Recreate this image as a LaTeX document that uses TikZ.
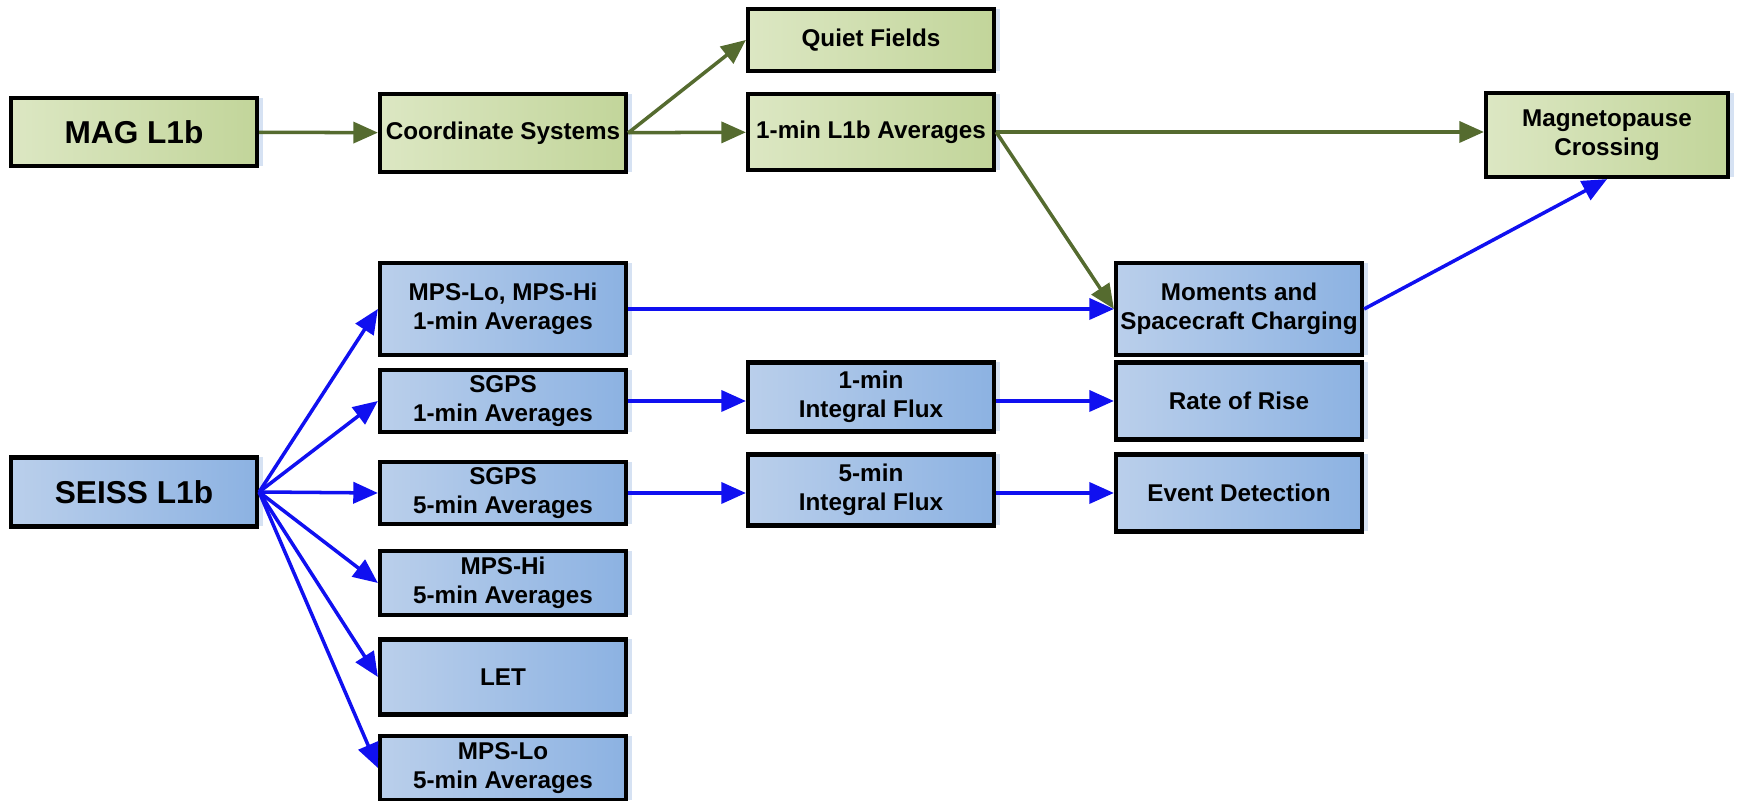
\documentclass[tikz,border=0pt]{standalone}
\usepackage{fontspec}
\setmainfont{Liberation Sans}
\usepackage{tikz}
\usetikzlibrary{arrows.meta, positioning, shadows}
\definecolor{magfill}{HTML}{DCE7C3}
\definecolor{magdark}{HTML}{C2D59A}
\definecolor{seissfill}{HTML}{BACFEB}
\definecolor{seissdark}{HTML}{8CB2E2}
\definecolor{magline}{HTML}{556B2F}
\definecolor{seissline}{HTML}{1010F0}
\tikzset{>={Triangle[length=7pt,width=6pt]}}

\begin{document}
\begin{tikzpicture}[thick,
	box/.style={draw=black, line width=1.2pt, minimum width=2.46cm, inner sep=0pt, align=center,
		font=\fontsize{6.9}{8.3}\selectfont\bfseries,
		drop shadow={shadow xshift=0.06cm, shadow yshift=0cm, fill=seissfill, opacity=0.6}},
	magbox/.style={box, left color=magfill, right color=magdark},
	seissbox/.style={box, left color=seissfill, right color=seissdark},
	magarrow/.style={->, draw=magline, line width=1pt},
	seissarrow/.style={->, draw=seissline, line width=1pt}]
	\useasboundingbox (0,0) rectangle (17.39,8.01);

	% MAG chain
	\node[magbox, minimum height=0.68cm, font=\fontsize{9}{10}\selectfont\bfseries] (MAG) at (1.34,6.69) {MAG L1b};
	\node[magbox, minimum height=0.78cm] (Coord) at (5.03,6.68) {Coordinate Systems};
	\node[magbox, minimum height=0.62cm] (Quiet) at (8.71,7.61) {Quiet Fields};
	\node[magbox, minimum height=0.76cm] (Avg) at (8.71,6.69) {1-min L1b Averages};
	\node[magbox, minimum height=0.84cm, minimum width=2.42cm] (Mpause) at (16.07,6.66) {Magnetopause\\Crossing};

	% SEISS chain
	\node[seissbox, minimum height=0.69cm, font=\fontsize{9}{10}\selectfont\bfseries] (SEISS) at (1.34,3.09) {SEISS L1b};
	\node[seissbox, minimum height=0.92cm] (MPS1) at (5.03,4.92) {MPS-Lo, MPS-Hi\\1-min Averages};
	\node[seissbox, minimum height=0.62cm] (SGPS1) at (5.03,4.00) {SGPS\\1-min Averages};
	\node[seissbox, minimum height=0.62cm] (SGPS5) at (5.03,3.08) {SGPS\\5-min Averages};
	\node[seissbox, minimum height=0.64cm] (Hi5) at (5.03,2.18) {MPS-Hi\\5-min Averages};
	\node[seissbox, minimum height=0.75cm] (LET) at (5.03,1.24) {LET};
	\node[seissbox, minimum height=0.64cm] (Lo5) at (5.03,0.33) {MPS-Lo\\5-min Averages};
	\node[seissbox, minimum height=0.69cm] (Flux1) at (8.71,4.04) {1-min\\Integral Flux};
	\node[seissbox, minimum height=0.71cm] (Flux5) at (8.71,3.11) {5-min\\Integral Flux};
	\node[seissbox, minimum height=0.92cm] (Moments) at (12.39,4.92) {Moments and\\Spacecraft Charging};
	\node[seissbox, minimum height=0.77cm] (Rise) at (12.39,4.00) {Rate of Rise};
	\node[seissbox, minimum height=0.77cm] (Event) at (12.39,3.08) {Event Detection};

	\draw[magarrow] (MAG) -- (Coord);
	\draw[magarrow] (Coord.east) -- (Quiet.west);
	\draw[magarrow] (Coord) -- (Avg);
	\draw[magarrow] (Avg.east) -- (Avg.east -| Mpause.west);
	\draw[magarrow] (Avg.east) -- (Moments.west);

	\foreach \n in {MPS1, SGPS1, SGPS5, Hi5, LET, Lo5}
		\draw[seissarrow] (SEISS.east) -- (\n.west);
	\draw[seissarrow] (MPS1) -- (Moments);
	\draw[seissarrow] (SGPS1.east) -- (SGPS1.east -| Flux1.west);
	\draw[seissarrow] (Flux1.east |- Rise.west) -- (Rise.west);
	\draw[seissarrow] (SGPS5.east) -- (SGPS5.east -| Flux5.west);
	\draw[seissarrow] (Flux5.east |- Event.west) -- (Event.west);
	\draw[seissarrow] (Moments.east) -- (Mpause.south);
\end{tikzpicture}
\end{document}
